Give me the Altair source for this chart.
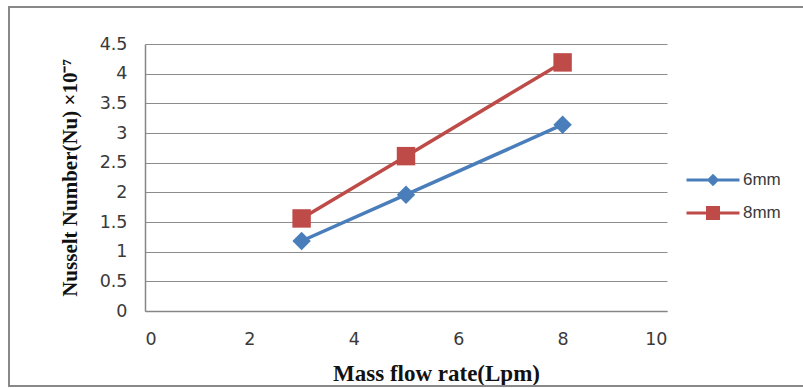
import altair as alt
import pandas as pd

flow = [3, 5, 8]
nu_6mm = [1.18, 1.96, 3.14]
nu_8mm = [1.56, 2.61, 4.19]
series = ["6mm", "8mm"]
colors = ["#4A7EBB", "#BE4B48"]
x_ticks = [0, 2, 4, 6, 8, 10]
y_ticks = [0, 0.5, 1, 1.5, 2, 2.5, 3, 3.5, 4, 4.5]

rows = []
for name, vals in zip(series, [nu_6mm, nu_8mm]):
    for f, v in zip(flow, vals):
        rows.append({"flow": f, "nu": v, "series": name, "lg": name})
df = pd.DataFrame(rows)

W, H = 522, 267

x_enc = alt.X(
    "flow:Q",
    scale=alt.Scale(domain=[0, 10], nice=False),
    axis=alt.Axis(
        values=x_ticks, grid=False, ticks=False, domain=True,
        domainColor="#868686", domainWidth=1.5, format="d", labelOverlap=False,
        labelFont="DejaVu Sans", labelFontSize=17.5, labelColor="#3a3a3a",
        labelPadding=19,
        title="Mass flow rate(Lpm)", titleFont="Liberation Serif",
        titleFontSize=23, titleFontWeight="bold", titleColor="#111111",
        titleX=291, titleY=62, titleBaseline="middle", titleAlign="center",
    ),
)
y_enc = alt.Y(
    "nu:Q",
    scale=alt.Scale(domain=[0, 4.5], nice=False),
    axis=alt.Axis(
        values=y_ticks, tickCount=10, grid=True, gridColor="#8c8c8c", gridWidth=1.2,
        ticks=False, domain=True, domainColor="#868686", domainWidth=1.5,
        format="~g", labelOverlap=False,
        labelFont="DejaVu Sans", labelFontSize=17.5, labelColor="#3a3a3a",
        labelPadding=18,
        title="Nusselt Number(Nu) ×10⁻⁷", titleFont="Liberation Serif",
        titleFontSize=21, titleFontWeight="bold", titleColor="#111111",
        titleAngle=-90, titleX=-75, titleY=H / 2, titleBaseline="middle",
        titleAlign="center",
    ),
)

color_scale = alt.Scale(domain=series, range=colors)

sym6 = "M-2.65,-0.15H2.65V0.15H-2.65Z M0,-0.62L0.62,0L0,0.62L-0.62,0Z"
sym8 = "M-2.65,-0.15H2.65V0.15H-2.65Z M-0.7,-0.7H0.7V0.7H-0.7Z"

legend = alt.Legend(
    title=None, orient="none", legendX=558, legendY=126,
    labelFont="Liberation Sans", labelFontSize=17, labelColor="#3a3a3a",
    labelOffset=20, rowPadding=15, padding=0, symbolSize=400,
    symbolStrokeWidth=0, symbolOpacity=1,
)

lines = alt.Chart(df).mark_line(strokeWidth=3.5).encode(
    x=x_enc, y=y_enc,
    color=alt.Color("series:N", scale=color_scale, legend=None),
    detail="series:N",
)

points = alt.Chart(df).mark_point(filled=True, opacity=1, size=340).encode(
    x="flow:Q", y="nu:Q",
    color=alt.Color("series:N", scale=color_scale, legend=None),
    shape=alt.Shape("series:N", scale=alt.Scale(domain=series, range=["diamond", "square"]), legend=None),
)

legend_layer = alt.Chart(df).mark_point(filled=True, size=400).encode(
    x="flow:Q", y="nu:Q",
    color=alt.Color("lg:N", scale=alt.Scale(domain=series, range=colors), legend=legend),
    shape=alt.Shape("lg:N", scale=alt.Scale(domain=series, range=[sym6, sym8]), legend=legend),
    opacity=alt.value(0),
)

border_top = alt.Chart(df).mark_rule(color="#888888", strokeWidth=2).encode(
    x=alt.value(-136), x2=alt.value(W + 140), y=alt.value(-37)
)
border_left = alt.Chart(df).mark_rule(color="#888888", strokeWidth=2).encode(
    x=alt.value(-136), y=alt.value(-38), y2=alt.value(H + 76)
)
border_bottom = alt.Chart(df).mark_rule(color="#888888", strokeWidth=2).encode(
    x=alt.value(-137), x2=alt.value(W + 140), y=alt.value(H + 75)
)

chart = alt.layer(lines, points, legend_layer, border_top, border_left, border_bottom).resolve_scale(
    color="independent", shape="independent"
).properties(
    width=W, height=H,
    autosize=alt.AutoSizeParams(type="none"),
    padding={"left": 145, "top": 44, "right": 136, "bottom": 77},
    background="white",
).configure_view(stroke=None)

chart.save("out.html", embed_options={"renderer": "svg", "actions": False})
